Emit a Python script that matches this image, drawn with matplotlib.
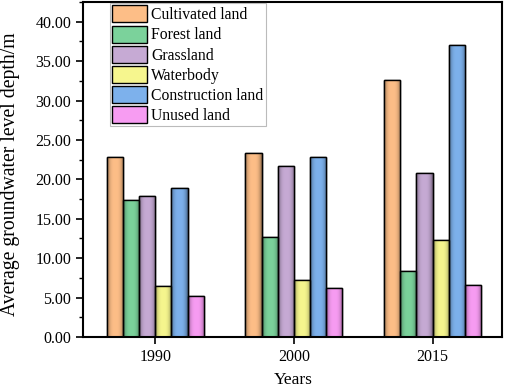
import matplotlib

matplotlib.use("Agg")
import matplotlib.pyplot as plt
import numpy as np
from matplotlib.colors import to_rgb
from matplotlib.ticker import MultipleLocator, FormatStrFormatter

plt.rcParams["font.family"] = ["Liberation Serif", "DejaVu Serif"]

years = ["1990", "2000", "2015"]
land_types = ["Cultivated land", "Forest land", "Grassland", "Waterbody",
              "Construction land", "Unused land"]
cultivated = [22.9, 23.3, 32.6]
forest = [17.4, 12.7, 8.4]
grassland = [17.9, 21.7, 20.8]
waterbody = [6.5, 7.2, 12.3]
construction = [18.9, 22.8, 37.1]
unused = [5.2, 6.2, 6.6]
series = [cultivated, forest, grassland, waterbody, construction, unused]
colors = ["#FDBE87", "#7BD29B", "#C6AAD4", "#F6F68E", "#7DB1EC", "#F79CF2"]

W = 0.1166


def shade(c, n=64):
    # cylinder-like horizontal gradient: dark edges, light centre
    base = np.array(to_rgb(c))
    t = np.linspace(-1, 1, n)
    f = 1 - 0.45 * np.abs(t) ** 3
    return np.clip(base[None, :] * f[:, None], 0, 1)[None, :, :]


fig = plt.figure(figsize=(5.05, 3.88), dpi=100)
ax = fig.add_axes((0.1644, 0.1314, 0.994 - 0.1644, 0.9948 - 0.1314))
x = np.arange(len(years))
for i, (vals, c, lab) in enumerate(zip(series, colors, land_types)):
    bars = ax.bar(x + (i - 2.5) * W, vals, W, color=c, edgecolor="black",
                  linewidth=1.0, label=lab, zorder=2)
    for b in bars:
        im = ax.imshow(shade(c), aspect="auto", zorder=2.5,
                       extent=(b.get_x(), b.get_x() + b.get_width(), 0, b.get_height()))
        im.set_clip_path(b)
        ax.add_patch(plt.Rectangle((b.get_x(), 0), b.get_width(), b.get_height(),
                                   fill=False, edgecolor="black", linewidth=1.0, zorder=3))

ax.set_xlim(-0.52, 2.5)
ax.set_ylim(0, 42.5)
ax.set_xticks(x, years)
ax.yaxis.set_major_locator(MultipleLocator(5))
ax.yaxis.set_minor_locator(MultipleLocator(2.5))
ax.yaxis.set_major_formatter(FormatStrFormatter("%.2f"))
ax.tick_params(axis="both", which="major", direction="out", length=5, width=1.2,
               labelsize=11.5)
ax.tick_params(axis="y", which="minor", direction="out", length=3, width=1.0)
for s in ax.spines.values():
    s.set_linewidth(1.5)
ax.set_xlabel("Years", fontsize=12.5)
ax.xaxis.set_label_coords(0.502, -0.103)
ax.set_ylabel("Average groundwater level depth/m", fontsize=14.2)
ax.yaxis.set_label_coords(-0.15, 0.487)

leg = ax.legend(loc="upper left", bbox_to_anchor=(0.064, 0.997), fontsize=11.3,
                handlelength=2.2, handleheight=1.3, handletextpad=0.3,
                labelspacing=0.15, borderpad=0.15, borderaxespad=0.0,
                fancybox=False, framealpha=1)
leg.get_frame().set_edgecolor("#BBBBBB")
leg.get_frame().set_linewidth(0.8)

fig.savefig("out.png", dpi=100)
